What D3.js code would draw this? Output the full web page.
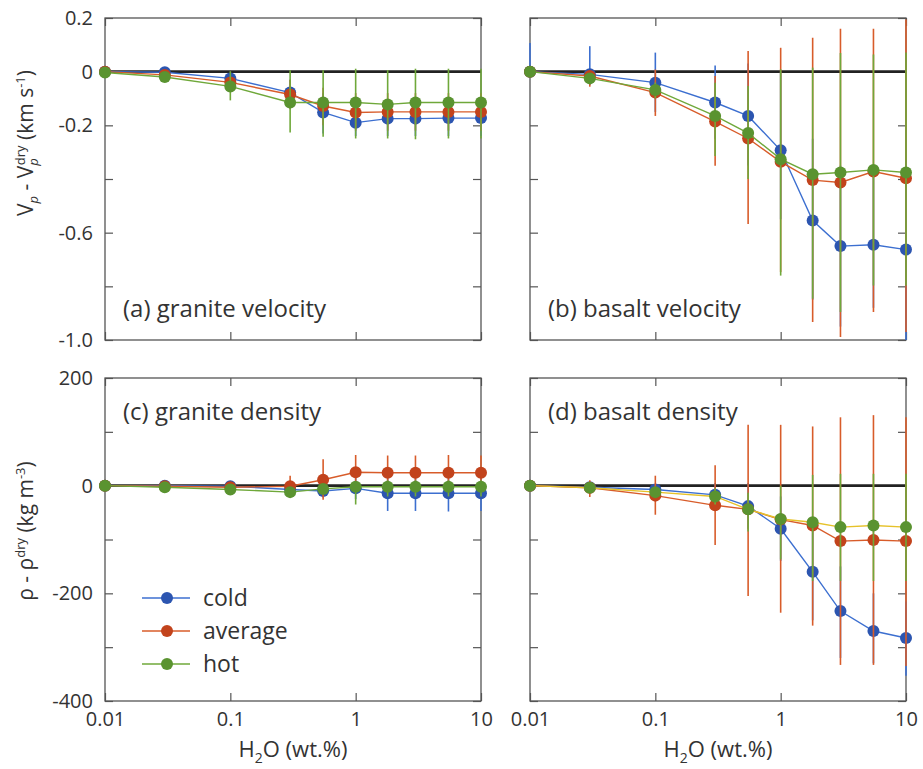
<!DOCTYPE html>
<html>
<head>
<meta charset="utf-8">
<script src="https://cdn.jsdelivr.net/npm/d3@7"></script>
<style>
body { margin: 0; background: #fff; }
text { font-family: "Open Sans", sans-serif; fill: #333; }
</style>
</head>
<body>
<svg id="chart" width="923" height="769"></svg>
<script>
// water content (wt.%)
var water = [0.01, 0.03, 0.1, 0.3, 0.55, 1, 1.8, 3, 5.5, 10];

var xTicks = [0.01, 0.1, 1, 10];
var xTickLabels = ["0.01", "0.1", "1", "10"];

var vpTicks = [0.2, 0, -0.2, -0.4, -0.6, -0.8, -1.0];
var vpTickLabels = ["0.2", "0", "-0.2", "", "-0.6", "", "-1.0"];
var rhoTicks = [200, 100, 0, -100, -200, -300, -400];
var rhoTickLabels = ["200", "", "0", "", "-200", "", "-400"];

var seriesNames = ["cold", "average", "hot"];

// (a) granite velocity, km/s
var graniteVpCold = [0, -0.002, -0.025, -0.078, -0.152, -0.19, -0.175, -0.175, -0.173, -0.173];
var graniteVpColdBars = [[-0.005, 0.005], [-0.012, 0.008], [-0.045, -0.005], [-0.13, -0.03], [-0.23, -0.08], [-0.24, -0.13], [-0.24, -0.11], [-0.24, -0.11], [-0.24, -0.11], [-0.24, -0.11]];
var graniteVpAvg = [0, -0.012, -0.04, -0.085, -0.128, -0.152, -0.15, -0.15, -0.15, -0.15];
var graniteVpAvgBars = [[-0.005, 0.005], [-0.02, -0.004], [-0.06, -0.02], [-0.14, -0.03], [-0.2, -0.06], [-0.22, -0.08], [-0.22, -0.08], [-0.22, -0.08], [-0.22, -0.08], [-0.22, -0.08]];
var graniteVpHot = [-0.003, -0.02, -0.055, -0.115, -0.115, -0.115, -0.122, -0.115, -0.115, -0.115];
var graniteVpHotBars = [[-0.005, 0], [-0.03, -0.01], [-0.107, 0.002], [-0.227, 0.005], [-0.243, 0.005], [-0.249, 0.011], [-0.249, 0.006], [-0.252, 0.011], [-0.249, 0.011], [-0.249, 0.011]];

// (b) basalt velocity, km/s
var basaltVpCold = [0, -0.01, -0.041, -0.115, -0.165, -0.293, -0.555, -0.65, -0.645, -0.663];
var basaltVpColdBars = [[0, 0.107], [-0.05, 0.095], [-0.15, 0.071], [-0.25, 0.023], [-0.35, 0.03], [-0.55, 0.0], [-0.85, -0.25], [-0.95, -0.35], [-0.88, -0.38], [-1.0, -0.33]];
var basaltVpAvg = [0, -0.016, -0.078, -0.186, -0.249, -0.336, -0.404, -0.413, -0.372, -0.397];
var basaltVpAvgBars = [[-0.003, 0.003], [-0.056, 0.002], [-0.165, 0.008], [-0.351, -0.016], [-0.568, 0.077], [-0.747, 0.089], [-0.933, 0.126], [-0.989, 0.16], [-0.896, 0.16], [-0.97, 0.194]];
var basaltVpHot = [0, -0.025, -0.068, -0.165, -0.229, -0.326, -0.382, -0.376, -0.366, -0.376];
var basaltVpHotBars = [[0, 0], [-0.04, -0.01], [-0.1, -0.04], [-0.314, -0.041], [-0.4, -0.053], [-0.76, 0.009], [-0.846, 0.015], [-0.896, 0.07], [-0.797, 0.064], [-0.797, 0.071]];

// (c) granite density, kg/m3
var graniteRhoCold = [0, 0, -1, -7, -10, -5, -14, -14, -14, -14];
var graniteRhoColdBars = [[0, 0], [-3, 3], [-4, 2], [-12, -2], [-22, 2], [-25, 15], [-47, 18], [-47, 18], [-48, 18], [-47, 18]];
var graniteRhoAvg = [0, -1, -3, -1, 11, 25, 24, 24, 24, 24];
var graniteRhoAvgBars = [[0, 0], [-3, 1], [-6, 0], [-15, 18.5], [-26, 49], [-7, 57], [-8, 56], [-8, 56], [-8, 57], [-8, 56]];
var graniteRhoHot = [0, -3, -7, -12, -6, -2, -2, -2, -2, -2];
var graniteRhoHotBars = [[0, 0], [-5, -1], [-10, -4], [-18, -6], [-15, 3], [-35, 5], [-20, 10], [-20, 10], [-20, 10], [-20, 10]];

// (d) basalt density, kg/m3
var basaltRhoCold = [0, -3, -7, -17, -38, -80, -160, -233, -270, -283];
var basaltRhoColdBars = [[-5, 5], [-8, 2], [-15, 0], [-40, 5], [-80, 5], [-140, -20], [-250, -70], [-320, -150], [-330, -200], [-353, -215]];
var basaltRhoAvg = [0, -4, -18.5, -36.5, -44, -63, -74, -103, -101, -103];
var basaltRhoAvgBars = [[0, 0], [-21, 10], [-54, 18.5], [-110, 38], [-205, 113], [-236, 113], [-260, 110], [-333, 127], [-333, 131], [-335, 127]];
var basaltRhoHot = [0, -4, -12, -20, -44, -62, -68, -77, -74, -77];
var basaltRhoHotBars = [[0, 0], [-6, -2], [-20, -4], [-35, -5], [-85, -13], [-137, 0], [-177, 20], [-177, 22], [-177, 22], [-177, 22]];

var markerColors = ["#2c55b0", "#c2431c", "#5a9330"];
var lineColors = ["#3c6fd0", "#d85c2a", "#6fa83a"];

var svg = d3.select("#chart");

var panels = [
	{ label: "(a) granite velocity", left: 105, right: 481, top: 18, bottom: 340, domain: [-1.0, 0.2],
		ticks: vpTicks, tickLabels: vpTickLabels, showY: true, showX: false, labelY: 317,
		series: [[graniteVpCold, graniteVpColdBars], [graniteVpAvg, graniteVpAvgBars], [graniteVpHot, graniteVpHotBars]] },
	{ label: "(b) basalt velocity", left: 530, right: 906, top: 18, bottom: 340, domain: [-1.0, 0.2],
		ticks: vpTicks, tickLabels: vpTickLabels, showY: false, showX: false, labelY: 317,
		series: [[basaltVpCold, basaltVpColdBars], [basaltVpAvg, basaltVpAvgBars], [basaltVpHot, basaltVpHotBars]] },
	{ label: "(c) granite density", left: 105, right: 481, top: 378, bottom: 701, domain: [-400, 200],
		ticks: rhoTicks, tickLabels: rhoTickLabels, showY: true, showX: true, labelY: 420,
		series: [[graniteRhoCold, graniteRhoColdBars], [graniteRhoAvg, graniteRhoAvgBars], [graniteRhoHot, graniteRhoHotBars]] },
	{ label: "(d) basalt density", left: 530, right: 906, top: 378, bottom: 701, domain: [-400, 200],
		ticks: rhoTicks, tickLabels: rhoTickLabels, showY: false, showX: true, labelY: 420, hotLine: "#e6c22a",
		series: [[basaltRhoCold, basaltRhoColdBars], [basaltRhoAvg, basaltRhoAvgBars], [basaltRhoHot, basaltRhoHotBars]] }
];

panels.forEach(drawPanel);

function drawPanel(p) {
	var x = d3.scaleLog().domain([0.01, 10]).range([p.left, p.right]);
	var y = d3.scaleLinear().domain(p.domain).range([p.bottom, p.top]);
	var g = svg.append("g");

	var yLabel = (d) => {
		return p.showY ? p.tickLabels[p.ticks.indexOf(d)] : "";
	};
	var xLabel = (d) => {
		return p.showX ? xTickLabels[xTicks.indexOf(d)] : "";
	};

	// inward ticks on all four sides
	g.append("g").attr("transform", "translate(" + p.left + ",0)")
		.call(d3.axisLeft(y).tickValues(p.ticks).tickSize(-8).tickPadding(12).tickFormat(yLabel));
	g.append("g").attr("transform", "translate(" + p.right + ",0)")
		.call(d3.axisRight(y).tickValues(p.ticks).tickSize(-8).tickFormat(""));
	g.append("g").attr("transform", "translate(0," + p.bottom + ")")
		.call(d3.axisBottom(x).tickValues(xTicks).tickSize(-8).tickPadding(11).tickFormat(xLabel));
	g.append("g").attr("transform", "translate(0," + p.top + ")")
		.call(d3.axisTop(x).tickValues(xTicks).tickSize(-8).tickFormat(""));

	g.selectAll(".domain").remove();
	g.selectAll(".tick line").attr("stroke", "#555").attr("stroke-width", 1.2);
	g.selectAll(".tick text").style("font-size", "20px").attr("fill", "#333");

	g.append("rect")
		.attr("x", p.left).attr("y", p.top)
		.attr("width", p.right - p.left).attr("height", p.bottom - p.top)
		.attr("fill", "none").attr("stroke", "#555").attr("stroke-width", 1.3);

	g.append("line")
		.attr("x1", p.left).attr("x2", p.right)
		.attr("y1", y(0)).attr("y2", y(0))
		.attr("stroke", "#222").attr("stroke-width", 2.6);

	p.series.forEach((s, k) => {
		var values = s[0], bars = s[1];

		g.selectAll(".bar" + k)
			.data(bars)
		.enter().append("line")
			.attr("x1", (d, i) => x(water[i]))
			.attr("x2", (d, i) => x(water[i]))
			.attr("y1", (d) => y(d[0]))
			.attr("y2", (d) => y(d[1]))
			.attr("stroke", lineColors[k])
			.attr("stroke-width", 1.6);

		var line = d3.line()
			.x((d, i) => x(water[i]))
			.y((d) => y(d));

		g.append("path")
			.datum(values)
			.attr("d", line)
			.attr("fill", "none")
			.attr("stroke", (k == 2 && p.hotLine) ? p.hotLine : lineColors[k])
			.attr("stroke-width", 1.4);

		g.selectAll(".dot" + k)
			.data(values)
		.enter().append("circle")
			.attr("cx", (d, i) => x(water[i]))
			.attr("cy", (d) => y(d))
			.attr("r", 6)
			.attr("fill", markerColors[k]);
	});

	g.append("text")
		.attr("x", p.left + 18)
		.attr("y", p.labelY)
		.style("font-size", "24px")
		.text(p.label);

	if (p.showX) {
		var t = g.append("text")
			.attr("x", (p.left + p.right) / 2)
			.attr("y", 757)
			.attr("text-anchor", "middle")
			.style("font-size", "22px");
		t.append("tspan").text("H");
		t.append("tspan").attr("dy", 6).style("font-size", "14px").text("2");
		t.append("tspan").attr("dy", -6).text("O (wt.%)");
	}
}

// y axis titles
var vpTitle = svg.append("text")
	.attr("transform", "translate(33,143) rotate(-90)")
	.attr("text-anchor", "middle")
	.style("font-size", "21px");
vpTitle.append("tspan").text("V");
vpTitle.append("tspan").attr("dy", 5).style("font-size", "13px").style("font-style", "italic").text("p");
vpTitle.append("tspan").attr("dy", -5).text(" - V");
vpTitle.append("tspan").attr("dy", 5).style("font-size", "13px").style("font-style", "italic").text("p");
vpTitle.append("tspan").attr("dx", -7).attr("dy", -13).style("font-size", "13px").text("dry");
vpTitle.append("tspan").attr("dy", 8).text(" (km s");
vpTitle.append("tspan").attr("dy", -8).style("font-size", "13px").text("-1");
vpTitle.append("tspan").attr("dy", 8).text(")");

var rhoTitle = svg.append("text")
	.attr("transform", "translate(33,531) rotate(-90)")
	.attr("text-anchor", "middle")
	.style("font-size", "21px");
rhoTitle.append("tspan").text("ρ - ρ");
rhoTitle.append("tspan").attr("dy", -8).style("font-size", "13px").text("dry");
rhoTitle.append("tspan").attr("dy", 8).text(" (kg m");
rhoTitle.append("tspan").attr("dy", -8).style("font-size", "13px").text("-3");
rhoTitle.append("tspan").attr("dy", 8).text(")");

// legend
var legendY = d3.scalePoint().domain(seriesNames).range([598, 664]);
var legend = svg.append("g");
seriesNames.forEach((name, k) => {
	var ly = legendY(name);
	legend.append("line")
		.attr("x1", 142).attr("x2", 190)
		.attr("y1", ly).attr("y2", ly)
		.attr("stroke", lineColors[k]).attr("stroke-width", 1.4);
	legend.append("circle")
		.attr("cx", 167).attr("cy", ly).attr("r", 6)
		.attr("fill", markerColors[k]);
	legend.append("text")
		.attr("x", 203).attr("y", ly + 8)
		.style("font-size", "23px")
		.text(name);
});
</script>
</body>
</html>
